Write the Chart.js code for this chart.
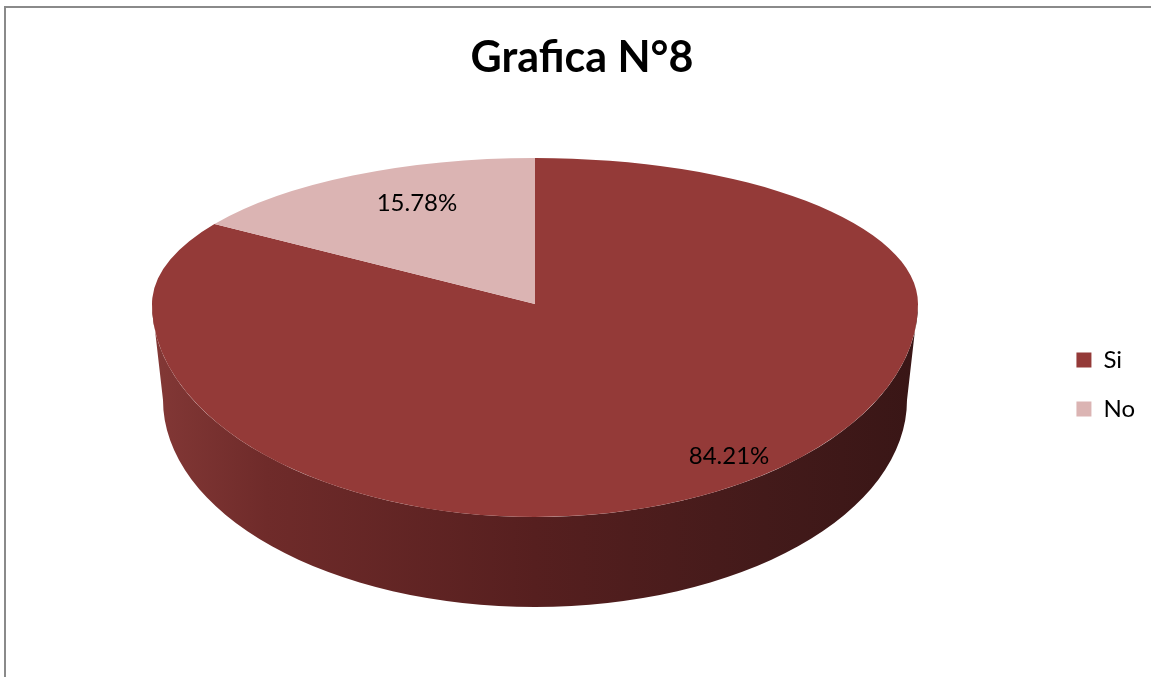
<!DOCTYPE html>
<html><head><meta charset="utf-8">
<script src="https://cdn.jsdelivr.net/npm/chart.js@4"></script>
<style>html,body{margin:0;padding:0;background:#fff;overflow:hidden}</style>
</head><body>
<canvas id="c" width="1151" height="677"></canvas>
<script>
// ---- data ----
const categories = ['Si', 'No'];
const values = [84.21, 15.78];
const valueLabels = ['84.21%', '15.78%'];
const titleText = 'Grafica N°8';

// ---- styles ----
const sliceColors = ['#943a38', '#dbb4b3'];
const view = { cx: 535, cy: 304, rx: 383, ryBack: 146, ryFront: 213, depth: 96, rxBottom: 372 };
const labelFactors = [[1.065, 0.811], [0.648, 0.787]];
const sideStops = [[0, '#833836'], [0.15, '#6f2b2a'], [0.5, '#561f1f'], [0.8, '#431a1a'], [1, '#391616']];

const pie3d = {
  id: 'pie3d',
  beforeDraw(chart) {
    const ctx = chart.ctx;
    ctx.save();
    ctx.fillStyle = '#ffffff';
    ctx.fillRect(0, 0, chart.width, chart.height);
    ctx.fillStyle = '#8a8a8a';
    ctx.fillRect(4, 6, 2, chart.height - 6);
    ctx.fillRect(4, 6, chart.width - 4, 2);
    ctx.restore();
  },
  beforeDatasetsDraw(chart) {
    const ctx = chart.ctx;
    const meta = chart.getDatasetMeta(0);
    const a0 = meta.data[0];
    const ox = a0.x, oy = a0.y, R = a0.outerRadius;
    const { cx, cy, ryBack, ryFront, depth, rxBottom } = view;
    const rx = R;
    const ryB = ryFront * rxBottom / rx;
    // side wall
    ctx.save();
    const g = ctx.createLinearGradient(cx - rx, 0, cx + rx, 0);
    sideStops.forEach(s => g.addColorStop(s[0], s[1]));
    ctx.fillStyle = g;
    ctx.beginPath();
    ctx.ellipse(cx, cy, rx, ryFront, 0, 0, Math.PI, false);
    ctx.lineTo(cx - rxBottom, cy + depth);
    ctx.ellipse(cx, cy + depth, rxBottom, ryB, 0, Math.PI, 0, true);
    ctx.closePath();
    ctx.fill();
    ctx.restore();
    // back half of top face
    ctx.save();
    ctx.beginPath();
    ctx.rect(0, 0, chart.width, cy + 1);
    ctx.clip();
    ctx.translate(cx, cy);
    ctx.scale(1, ryBack / R);
    ctx.translate(-ox, -oy);
    meta.data.forEach(el => el.draw(ctx));
    ctx.restore();
    // front half of top face
    ctx.save();
    ctx.beginPath();
    ctx.rect(0, cy, chart.width, chart.height - cy);
    ctx.clip();
    ctx.translate(cx, cy);
    ctx.scale(1, ryFront / R);
    ctx.translate(-ox, -oy);
    meta.data.forEach(el => el.draw(ctx));
    ctx.restore();
    return false;
  },
  afterDraw(chart) {
    const ctx = chart.ctx;
    const meta = chart.getDatasetMeta(0);
    const { cx, cy, ryBack, ryFront } = view;
    ctx.save();
    ctx.fillStyle = '#000';
    ctx.font = '24px Lato';
    ctx.textAlign = 'center';
    ctx.textBaseline = 'middle';
    meta.data.forEach((el, i) => {
      const R = el.outerRadius;
      const mid = (el.startAngle + el.endAngle) / 2;
      const s = Math.sin(mid);
      const ry = s < 0 ? ryBack : ryFront;
      const x = cx + R * labelFactors[i][0] * Math.cos(mid);
      const y = cy + ry * labelFactors[i][1] * s;
      ctx.fillText(valueLabels[i], x, y);
    });
    ctx.restore();
  }
};

new Chart(document.getElementById('c').getContext('2d'), {
  type: 'pie',
  data: {
    labels: categories,
    datasets: [{ data: values, backgroundColor: sliceColors, borderWidth: 0, hoverOffset: 0 }]
  },
  options: {
    responsive: false,
    animation: false,
    events: [],
    radius: view.rx,
    layout: { padding: { left: 19, right: 6, top: 0, bottom: -92 } },
    plugins: {
      title: {
        display: true, text: titleText, color: '#000',
        font: { family: 'Lato', size: 43, weight: 'bold' },
        padding: { top: 32, bottom: 10 }
      },
      legend: {
        position: 'right',
        labels: {
          boxWidth: 15, boxHeight: 15, padding: 25, color: '#000',
          font: { family: 'Lato', size: 24 }
        }
      },
      tooltip: { enabled: false }
    }
  },
  plugins: [pie3d]
});
</script>
</body></html>
